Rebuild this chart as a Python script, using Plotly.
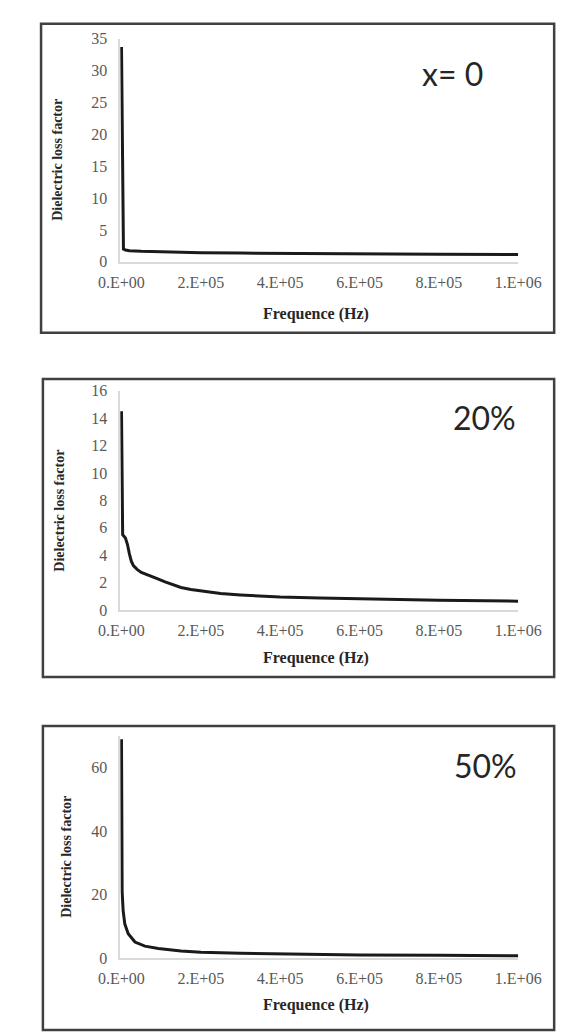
import plotly.graph_objects as go

W, H = 571, 1033

# ---- data ----
freq_x0 = [100, 5e3, 1e4, 2e4, 5e4, 1e5, 2e5, 3e5, 4e5, 6e5, 8e5, 1e6]
loss_x0 = [33.7, 2.0, 1.85, 1.75, 1.65, 1.55, 1.45, 1.38, 1.32, 1.25, 1.2, 1.15]

freq_20 = [100, 3e3, 1e4, 1.5e4, 2e4, 2.5e4, 3e4, 4e4, 5e4, 7e4, 9e4, 1.1e5, 1.3e5,
           1.5e5, 1.75e5, 2e5, 2.5e5, 3e5, 4e5, 5e5, 6e5, 8e5, 1e6]
loss_20 = [14.5, 5.5, 5.25, 4.8, 4.1, 3.55, 3.25, 2.95, 2.75, 2.55, 2.3, 2.05, 1.85,
           1.65, 1.5, 1.4, 1.2, 1.1, 0.95, 0.88, 0.82, 0.72, 0.65]

freq_50 = [100, 1.7e3, 4.2e3, 8.4e3, 1.7e4, 3.4e4, 5.9e4, 9.3e4, 1.5e5, 2e5, 3e5,
           4e5, 6e5, 8e5, 1e6]
loss_50 = [69.0, 21.0, 15.0, 10.8, 7.7, 5.1, 3.8, 3.1, 2.3, 1.85, 1.55, 1.35, 1.0,
           0.9, 0.8]

x_tickvals = [0, 2e5, 4e5, 6e5, 8e5, 1e6]
x_ticktext = ["0.E+00", "2.E+05", "4.E+05", "6.E+05", "8.E+05", "1.E+06"]

panel_labels = ["x= 0", "20%", "50%"]
y_ranges = [[0, 35], [0, 16], [0, 70]]
y_dticks = [5, 2, 20]
y_title = "Dielectric loss factor"
x_title = "Frequence (Hz)"

# ---- layout geometry (pixels) ----
plot_x = (98, 530)
plot_y = [(23, 250), (381, 604), (732, 958)]      # top, bottom
boxes = [(12, 8, 569, 322), (14, 369, 569, 672), (14, 722, 569, 1031)]
xtitle_y = [303, 653, 1006]
ytitle_x = [29, 32, 40]
label_pos = [(459, 58), (493, 408), (495, 762)]

def px(x):
    return x / W

def py(y):
    return 1 - y / H

series = [(freq_x0, loss_x0), (freq_20, loss_20), (freq_50, loss_50)]

fig = go.Figure()
layout = dict(
    width=W, height=H,
    margin=dict(l=0, r=0, t=0, b=0),
    paper_bgcolor="white", plot_bgcolor="white",
    showlegend=False,
)

tickfont = dict(family="Liberation Serif", size=16, color="#595959")
annotations = []
shapes = []

for i, (fx, fy) in enumerate(series):
    n = "" if i == 0 else str(i + 1)
    fig.add_trace(go.Scatter(
        x=fx, y=fy, mode="lines",
        line=dict(color="#1a1a1a", width=3),
        xaxis="x" + n, yaxis="y" + n, hoverinfo="skip",
    ))
    top, bot = plot_y[i]
    layout["xaxis" + n] = dict(
        domain=[px(plot_x[0]), px(plot_x[1])],
        anchor="y" + n,
        range=[-3000, 1e6],
        tickvals=x_tickvals, ticktext=x_ticktext,
        tickfont=tickfont, ticks="", ticklabelstandoff=5,
        showgrid=False, zeroline=False,
        showline=True, linecolor="#d9d9d9", linewidth=1.5,
    )
    layout["yaxis" + n] = dict(
        domain=[py(bot), py(top)],
        anchor="x" + n,
        range=y_ranges[i], dtick=y_dticks[i], tick0=0,
        tickfont=tickfont, ticks="", ticklabelstandoff=8,
        showgrid=False, zeroline=False,
        showline=True, linecolor="#d9d9d9", linewidth=1.5,
    )
    # axis titles
    annotations.append(dict(
        text="<b>" + x_title + "</b>", xref="paper", yref="paper",
        x=px(310), y=py(xtitle_y[i]), showarrow=False,
        xanchor="center", yanchor="middle",
        font=dict(family="Liberation Serif", size=16, color="#262626"),
    ))
    annotations.append(dict(
        text="<b>" + y_title + "</b>", xref="paper", yref="paper",
        x=px(ytitle_x[i]), y=py((top + bot) / 2 + 10), showarrow=False,
        textangle=-90, xanchor="center", yanchor="middle",
        font=dict(family="Liberation Serif", size=14, color="#262626"),
    ))
    # panel label
    lx, ly = label_pos[i]
    annotations.append(dict(
        text=panel_labels[i], xref="paper", yref="paper",
        x=px(lx), y=py(ly), showarrow=False,
        xanchor="center", yanchor="middle",
        font=dict(family="Lato", size=32, color="#262626"),
    ))
    # border box
    x0, y0, x1, y1 = boxes[i]
    shapes.append(dict(
        type="rect", xref="paper", yref="paper",
        x0=px(x0), x1=px(x1), y0=py(y1), y1=py(y0),
        line=dict(color="#404040", width=2.5), layer="below",
    ))

layout["annotations"] = annotations
layout["shapes"] = shapes
fig.update_layout(**layout)
fig.write_html("out.html")
